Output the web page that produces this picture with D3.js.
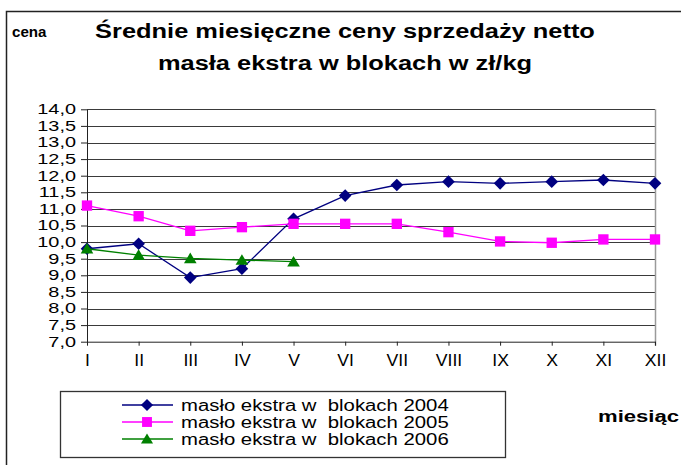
<!DOCTYPE html>
<html>
<head>
<meta charset="utf-8">
<script src="https://cdn.jsdelivr.net/npm/d3@7"></script>
<style>
  html, body { margin: 0; padding: 0; background: #fff; }
  svg { display: block; font-family: "Liberation Sans", Arial, sans-serif; }
</style>
</head>
<body>
<svg id="chart" width="681" height="465"></svg>
<script>
const months = ["I","II","III","IV","V","VI","VII","VIII","IX","X","XI","XII"];
const values2004 = [9.80, 9.95, 8.93, 9.20, 10.70, 11.40, 11.72, 11.82, 11.77, 11.82, 11.87, 11.77];
const values2005 = [11.10, 10.78, 10.34, 10.45, 10.55, 10.55, 10.55, 10.30, 10.02, 9.98, 10.08, 10.08];
const values2006 = [9.80, 9.61, 9.51, 9.46, 9.41];
const yTicks = [7.0, 7.5, 8.0, 8.5, 9.0, 9.5, 10.0, 10.5, 11.0, 11.5, 12.0, 12.5, 13.0, 13.5, 14.0];
const seriesNames = ["masło ekstra w  blokach 2004", "masło ekstra w  blokach 2005", "masło ekstra w  blokach 2006"];
const seriesColors = ["#000080", "#FF00FF", "#008000"];
const seriesShapes = ["diamond", "square", "triangle"];
const titleLines = ["Średnie miesięczne ceny sprzedaży netto", "masła ekstra w blokach w zł/kg"];
const yAxisTitle = "cena";
const xAxisTitle = "miesiąc";

const svg = d3.select("#chart");

// stretch a text horizontally by a factor (keeps it real text)
function stretch(sel, k) {
  sel.each(function () {
    const w = this.getComputedTextLength();
    d3.select(this).attr("textLength", w * k).attr("lengthAdjust", "spacingAndGlyphs");
  });
}

// outer chart border (extends beyond the picture)
svg.append("rect").attr("x", 6.5).attr("y", 11.5).attr("width", 720).attr("height", 520)
  .attr("fill", "#fff").attr("stroke", "#222").attr("stroke-width", 1.5);

const x = d3.scalePoint().domain(months).range([87, 655]).padding(0);
const y = d3.scaleLinear().domain([7, 14]).range([341.7, 109.3]);

// gridlines
svg.append("g").selectAll("line").data(yTicks.filter(d => d > 7)).join("line")
  .attr("x1", 87).attr("x2", 655)
  .attr("y1", d => Math.round(y(d)) + 0.5).attr("y2", d => Math.round(y(d)) + 0.5)
  .attr("stroke", "#3a3a3a").attr("stroke-width", 1.1);

// plot right border
svg.append("line").attr("x1", 655.5).attr("x2", 655.5).attr("y1", y(14)).attr("y2", y(7) + 4)
  .attr("stroke", "#9a9a9a").attr("stroke-width", 1.5);

// y axis
const fmt = d => d.toFixed(1).replace(".", ",");
const yAxis = svg.append("g").attr("transform", "translate(87,0)")
  .call(d3.axisLeft(y).tickValues(yTicks).tickFormat(fmt).tickSize(6).tickSizeOuter(0).tickPadding(5));
yAxis.select(".domain").attr("stroke", "#222");
yAxis.selectAll(".tick line").attr("stroke", "#222");
yAxis.selectAll(".tick text").attr("font-size", 14).attr("fill", "#000")
  .attr("font-family", "'Liberation Sans', Arial, sans-serif").call(stretch, 1.42);

// x axis
const xAxis = svg.append("g").attr("transform", `translate(0,${y(7)})`)
  .call(d3.axisBottom(x).tickSize(4).tickSizeOuter(0).tickPadding(9));
xAxis.select(".domain").attr("stroke", "#222");
xAxis.selectAll(".tick line").attr("stroke", "#222");
xAxis.selectAll(".tick text").attr("font-size", 16).attr("fill", "#000")
  .attr("font-family", "'Liberation Sans', Arial, sans-serif").call(stretch, 1.1);

// symbols
function shapePath(shape, s) {
  if (shape === "diamond") return `M0,${-s*0.55}L${s*0.55},0L0,${s*0.55}L${-s*0.55},0Z`;
  if (shape === "square") return `M${-s*0.45},${-s*0.45}H${s*0.45}V${s*0.45}H${-s*0.45}Z`;
  return `M0,${-s*0.5}L${s*0.55},${s*0.42}L${-s*0.55},${s*0.42}Z`;
}

const allSeries = [values2004, values2005, values2006];
const line = d3.line().x((d, i) => x(months[i])).y(d => y(d));
allSeries.forEach((vals, k) => {
  const g = svg.append("g");
  g.append("path").attr("d", line(vals)).attr("fill", "none")
    .attr("stroke", seriesColors[k]).attr("stroke-width", 1.3);
  g.selectAll("path.m").data(vals).join("path").attr("class", "m")
    .attr("transform", (d, i) => `translate(${x(months[i])},${y(d)})`)
    .attr("d", shapePath(seriesShapes[k], 11.5))
    .attr("fill", seriesColors[k]);
});

// titles
svg.append("text").attr("x", 345).attr("y", 38).attr("text-anchor", "middle")
  .attr("font-size", 20).attr("font-weight", "bold").text(titleLines[0]).call(stretch, 1.27);
svg.append("text").attr("x", 345).attr("y", 70).attr("text-anchor", "middle")
  .attr("font-size", 20).attr("font-weight", "bold").text(titleLines[1]).call(stretch, 1.27);
svg.append("text").attr("x", 12).attr("y", 37).attr("font-size", 14)
  .attr("font-weight", "bold").text(yAxisTitle).call(stretch, 1.08);
svg.append("text").attr("x", 598).attr("y", 422).attr("font-size", 16)
  .attr("font-weight", "bold").text(xAxisTitle).call(stretch, 1.38);

// legend
svg.append("rect").attr("x", 60.5).attr("y", 391.5).attr("width", 445).attr("height", 66)
  .attr("fill", "#fff").attr("stroke", "#333").attr("stroke-width", 1.3);
const legRows = [405, 422, 439];
seriesNames.forEach((name, k) => {
  const g = svg.append("g").attr("transform", `translate(0,${legRows[k]})`);
  g.append("line").attr("x1", 122).attr("x2", 173).attr("y1", 0).attr("y2", 0)
    .attr("stroke", seriesColors[k]).attr("stroke-width", 1.3);
  g.append("path").attr("transform", "translate(147,0)")
    .attr("d", shapePath(seriesShapes[k], 11)).attr("fill", seriesColors[k]);
  g.append("text").attr("x", 181).attr("y", 6).attr("font-size", 16)
    .attr("xml:space", "preserve").style("white-space", "pre").text(name).call(stretch, 1.27);
});
</script>
</body>
</html>
